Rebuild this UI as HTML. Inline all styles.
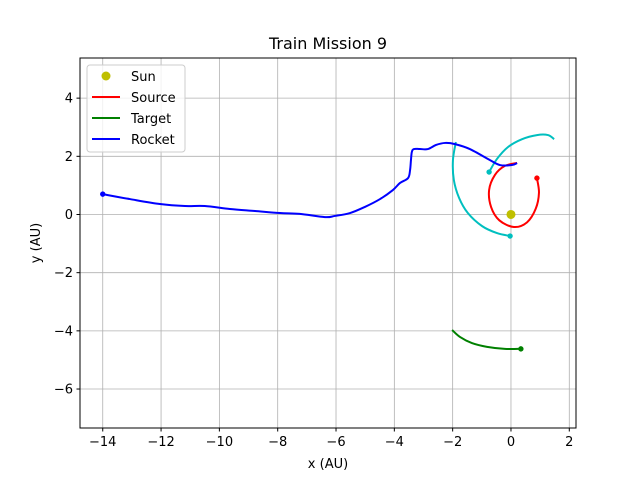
<!DOCTYPE html>
<html><head><meta charset="utf-8"><style>
body{margin:0;background:#fff}
svg text{font-family:"DejaVu Sans","Liberation Sans",sans-serif;fill:#000}
</style></head><body>
<svg id="chart" width="640" height="480" viewBox="0 0 640 480" xmlns="http://www.w3.org/2000/svg">
<rect width="640" height="480" fill="#fff"/>
<g id="grid"></g>
<g id="series"></g>
<rect x="80" y="58" width="496" height="370" fill="none" stroke="#000" stroke-width="1"/>
<g id="ticks"></g>
<text x="328" y="49" font-size="16" text-anchor="middle">Train Mission 9</text>
<text x="328" y="468" font-size="13" text-anchor="middle">x (AU)</text>
<text x="40" y="243" font-size="13" text-anchor="middle" transform="rotate(-90 40 243)">y (AU)</text>
<g>
<rect x="87" y="65" width="98" height="87" rx="3" fill="#fff" fill-opacity="0.8" stroke="#ccc"/>
<circle cx="106" cy="76" r="4.5" fill="#bfbf00"/>
<text x="131" y="81" font-size="13">Sun</text>
<line x1="92" y1="97" x2="120" y2="97" stroke="#f00" stroke-width="2"/>
<text x="131" y="102" font-size="13">Source</text>
<line x1="92" y1="118" x2="120" y2="118" stroke="#008000" stroke-width="2"/>
<text x="131" y="123" font-size="13">Target</text>
<line x1="92" y1="139" x2="120" y2="139" stroke="#00f" stroke-width="2"/>
<text x="131" y="144" font-size="13">Rocket</text>
</g>
</svg>
<script>
const xTicks=[-14,-12,-10,-8,-6,-4,-2,0,2];
const yTicks=[-6,-4,-2,0,2,4];
const rocketX=[-14.0,-13.07,-12.04,-11.18,-10.5,-9.64,-8.78,-7.92,-7.24,-6.38,-6.04,-5.52,-5.01,-4.49,-4.05,-3.81,-3.53,-3.46,-3.43,-3.40,-3.33,-3.12,-2.85,-2.57,-2.26,-1.92,-1.41,-0.72,-0.38,0.03,0.21];
const rocketY=[0.70,0.53,0.36,0.29,0.29,0.19,0.12,0.05,0.02,-0.09,-0.05,0.05,0.26,0.53,0.84,1.08,1.25,1.53,1.87,2.15,2.25,2.25,2.25,2.39,2.46,2.42,2.25,1.87,1.70,1.70,1.77];
const sourceX=[0.89,0.96,0.85,0.55,0.1,-0.4,-0.68,-0.75,-0.55,-0.21,0.21];
const sourceY=[1.25,0.75,0.2,-0.27,-0.43,-0.2,0.25,0.84,1.36,1.67,1.77];
const targetX=[0.34,-0.21,-0.82,-1.34,-1.75,-2.02];
const targetY=[-4.62,-4.62,-4.55,-4.42,-4.21,-3.97];
const cyanAX=[-0.03,-0.48,-0.99,-1.48,-1.78,-1.96,-1.99,-1.89];
const cyanAY=[-0.74,-0.64,-0.40,0.05,0.57,1.19,1.87,2.49];
const cyanBX=[-0.75,-0.48,-0.10,0.38,0.89,1.27,1.48];
const cyanBY=[1.46,1.91,2.32,2.59,2.73,2.73,2.59];
const sunX=[0], sunY=[0];
const X0=-14.78,X1=2.23,Y0=-7.34,Y1=5.38;
const sx=v=>80+(v-X0)/(X1-X0)*496;
const sy=v=>428-(v-Y0)/(Y1-Y0)*370;
const NS="http://www.w3.org/2000/svg";
function mk(tag,parent){const e=document.createElementNS(NS,tag);document.getElementById(parent).appendChild(e);return e;}
xTicks.forEach(t=>{const x=sx(t);
 const g=mk('line','grid');g.setAttribute('x1',x);g.setAttribute('x2',x);g.setAttribute('y1',58);g.setAttribute('y2',428);g.setAttribute('stroke','#b0b0b0');g.setAttribute('stroke-width','0.8');
 
 
 const k=mk('line','ticks');k.setAttribute('x1',x);k.setAttribute('x2',x);k.setAttribute('y1',428);k.setAttribute('y2',431.5);k.setAttribute('stroke','#000');
 const l=mk('text','ticks');l.setAttribute('x',x);l.setAttribute('y',446);l.setAttribute('font-size','13');l.setAttribute('text-anchor','middle');l.textContent=(t<0?'\u2212'+(-t):t);
 
 
});
yTicks.forEach(t=>{const y=sy(t);
 const g=mk('line','grid');g.setAttribute('x1',80);g.setAttribute('x2',576);g.setAttribute('y1',y);g.setAttribute('y2',y);g.setAttribute('stroke','#b0b0b0');g.setAttribute('stroke-width','0.8');
 
 
 const k=mk('line','ticks');k.setAttribute('x1',76.5);k.setAttribute('x2',80);k.setAttribute('y1',y);k.setAttribute('y2',y);k.setAttribute('stroke','#000');
 const l=mk('text','ticks');l.setAttribute('x',73);l.setAttribute('y',y+4.5);l.setAttribute('font-size','13');l.setAttribute('text-anchor','end');l.textContent=(t<0?'\u2212'+(-t):t);
 
 
});
function smooth(pts){
 let d='M'+pts[0][0]+','+pts[0][1];
 for(let i=0;i<pts.length-1;i++){
  const p0=pts[Math.max(0,i-1)],p1=pts[i],p2=pts[i+1],p3=pts[Math.min(pts.length-1,i+2)];
  const c1=[p1[0]+(p2[0]-p0[0])/6,p1[1]+(p2[1]-p0[1])/6];
  const c2=[p2[0]-(p3[0]-p1[0])/6,p2[1]-(p3[1]-p1[1])/6];
  d+=' C'+c1[0]+','+c1[1]+' '+c2[0]+','+c2[1]+' '+p2[0]+','+p2[1];
 }
 return d;
}
function line(xs,ys,color,name){
 const pts=xs.map((x,i)=>[sx(x),sy(ys[i])]);
 const p=mk('path','series');p.setAttribute('d',smooth(pts));
 p.setAttribute('fill','none');p.setAttribute('stroke',color);p.setAttribute('stroke-width','2');p.setAttribute('stroke-linejoin','round');
 
 
 const c=mk('circle','series');c.setAttribute('cx',pts[0][0]);c.setAttribute('cy',pts[0][1]);c.setAttribute('r',2.7);c.setAttribute('fill',color);
 
 
}
line(cyanAX,cyanAY,'#00bfbf','cyan-path-a');
line(cyanBX,cyanBY,'#00bfbf','cyan-path-b');
line(targetX,targetY,'#008000','target-orbit');
line(sourceX,sourceY,'#f00','source-orbit');
line(rocketX,rocketY,'#00f','rocket-path');
sunX.forEach((x,i)=>{const c=mk('circle','series');c.setAttribute('cx',sx(x));c.setAttribute('cy',sy(sunY[i]));c.setAttribute('r',4.5);c.setAttribute('fill','#bfbf00');
 
 });
</script>
</body></html>
